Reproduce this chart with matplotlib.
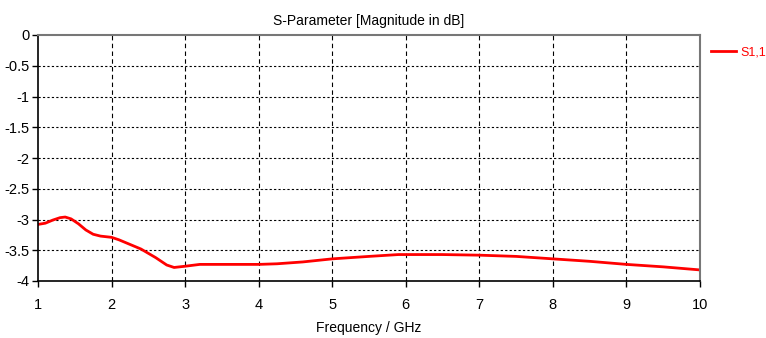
import matplotlib as mpl
mpl.use('Agg')
import matplotlib.pyplot as plt

# データ (周波数 [GHz], |S11| [dB])
freq = [1.0, 1.1, 1.2, 1.3, 1.37, 1.45, 1.55, 1.65, 1.75, 1.85, 2.0, 2.1, 2.2, 2.4,
        2.6, 2.75, 2.85, 3.0, 3.2, 3.5, 4.0, 4.25, 4.6, 5.0, 5.5, 5.9, 6.5, 7.0,
        7.5, 8.0, 8.5, 9.0, 9.5, 10.0]
s11 = [-3.08, -3.06, -3.01, -2.97, -2.96, -2.99, -3.07, -3.17, -3.24, -3.27, -3.29, -3.33,
       -3.38, -3.48, -3.62, -3.74, -3.78, -3.76, -3.73, -3.73, -3.73, -3.72, -3.69, -3.64,
       -3.60, -3.57, -3.57, -3.58, -3.60, -3.64, -3.68, -3.73, -3.77, -3.82]

x_ticks = [1, 2, 3, 4, 5, 6, 7, 8, 9, 10]
y_ticks = [0, -0.5, -1, -1.5, -2, -2.5, -3, -3.5, -4]
y_labels = ['0', '-0.5', '-1', '-1.5', '-2', '-2.5', '-3', '-3.5', '-4']

plt.rcParams['font.family'] = ['Liberation Sans', 'DejaVu Sans']

fig = plt.figure(figsize=(7.66, 3.38), dpi=100)
ax = fig.add_axes([38 / 766, 57 / 338, 662 / 766, 246 / 338])

ax.plot(freq, s11, color='red', linewidth=2, label='S1,1')

ax.set_xlim(1, 10)
ax.set_ylim(-4, 0)
ax.set_xticks(x_ticks)
ax.set_yticks(y_ticks)
ax.set_yticklabels(y_labels)

# グリッド
for yv in y_ticks[1:-1]:
    ax.axhline(yv, color='black', linestyle=(0, (2, 2)), linewidth=0.8, zorder=0)
for xv in x_ticks[1:-1]:
    ax.axvline(xv, color='black', linestyle=(0, (4, 3)), linewidth=0.8, zorder=0)

for s in ['top', 'right']:
    ax.spines[s].set_color('#777777')
    ax.spines[s].set_linewidth(1.5)
for s in ['left', 'bottom']:
    ax.spines[s].set_color('black')
    ax.spines[s].set_linewidth(1.2)

ax.tick_params(direction='out', length=4, width=1, labelsize=10.5, pad=2)
ax.tick_params(axis='x', pad=8)

ax.set_title('S-Parameter [Magnitude in dB]', fontsize=10, pad=7)
ax.set_xlabel('Frequency / GHz', fontsize=10, labelpad=7)

leg = ax.legend(loc='upper left', bbox_to_anchor=(1.0, 1.0), frameon=False,
                fontsize=9, handlelength=2.0, handletextpad=0.3,
                borderaxespad=0.5, borderpad=0.4)
for t in leg.get_texts():
    t.set_color('red')

fig.savefig('out.png', dpi=100)
